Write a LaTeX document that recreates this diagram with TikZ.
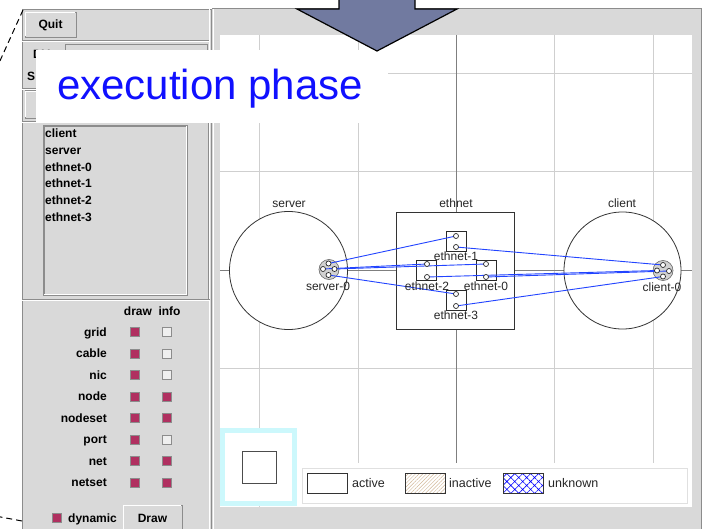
\documentclass[tikz,border=0pt]{standalone}
\usepackage{fontspec}
\setmainfont{Liberation Sans}
\usetikzlibrary{patterns.meta}
\definecolor{tkgray}{HTML}{D9D9D9}
\definecolor{tkdark}{HTML}{8C8C8C}
\definecolor{tklight}{HTML}{EFEFEF}
\definecolor{gridc}{HTML}{CFCFCF}
\definecolor{axisc}{HTML}{7F7F7F}
\definecolor{arrowc}{HTML}{717AA0}
\definecolor{cablec}{HTML}{2244FF}
\definecolor{checkc}{HTML}{B03060}
\definecolor{minic}{HTML}{CCF8FC}
\definecolor{hatchc}{HTML}{D2B898}
\definecolor{portc}{HTML}{2A2A2A}
\definecolor{phasec}{HTML}{1010FF}
\begin{document}
\begin{tikzpicture}[x=1pt,y=-1pt,
  guib/.style={font=\fontsize{12}{14}\selectfont\bfseries, inner sep=0pt},
  cvs/.style={font=\fontsize{12}{14}\selectfont, inner sep=0pt, text=black!85},
  gridline/.style={gridc, line width=1pt},
  axisline/.style={axisc, line width=1pt},
  sep/.style={tkdark, line width=0.8pt},
  hilite/.style={white, line width=0.8pt},
  button/.style={draw=tkdark, fill=tkgray, line width=0.8pt},
  sunken/.style={draw=tkdark, line width=0.8pt},
  chkon/.style={draw=tkdark, fill=checkc, minimum size=9pt, inner sep=0pt, line width=0.8pt},
  chkoff/.style={draw=tkdark, fill=tklight, minimum size=9pt, inner sep=0pt, line width=0.8pt},
  hostnode/.style={circle, draw=black!80, fill=white, line width=0.8pt, inner sep=0pt},
  nicnode/.style={circle, draw=black!60, fill=black!18, minimum size=20pt, inner sep=0pt, line width=0.6pt},
  portnode/.style={circle, draw=portc, fill=white, minimum size=5pt, inner sep=0pt, line width=0.7pt},
  ifbox/.style={draw=portc, fill=white, minimum size=20pt, inner sep=0pt, line width=0.8pt},
  cable/.style={cablec, line width=0.9pt},
  swatch/.style={draw=black!80, line width=0.8pt, minimum width=40pt, minimum height=20pt, inner sep=0pt},
  legtext/.style={font=\fontsize{12.5}{14}\selectfont, inner sep=0pt, text=black!85},
]
\useasboundingbox (0,0) rectangle (706,529);
\fill[white] (0,0) rectangle (706,529);
% window background
\fill[tkgray] (22,9) rectangle (702,529);
% right panel frame
\draw[sep] (211.5,9) -- (211.5,529);
\draw[hilite] (213,9) -- (213,529);
\draw[sep] (212,8.5) -- (702,8.5);
\draw[sep] (701.5,9) -- (701.5,529);
% canvas
\fill[white] (220,35) rectangle (692,507);
\foreach \x in {259,358,554,653} \draw[gridline] (\x,35) -- (\x,507);
\foreach \y in {74,172,368} \draw[gridline] (220,\y) -- (692,\y);
\draw[axisline] (456,35) -- (456,507);
\draw[axisline] (220,270.5) -- (692,270.5);
% hosts and net
\node[hostnode, minimum size=118pt] (server) at (288.5,270.5) {};
\node[hostnode, minimum size=117pt] (client) at (622.5,270.5) {};
\node[draw=black!80, fill=white, line width=0.8pt, minimum width=118pt, minimum height=117pt, inner sep=0pt] (ethnet) at (455,270.5) {};
\node[cvs, anchor=base] (serverlbl) at (289,208) {server};
\node[cvs, anchor=base] (ethnetlbl) at (456,208) {ethnet};
\node[cvs, anchor=base] (clientlbl) at (622,208) {client};
% NICs and interface boxes
\node[nicnode] (server0) at (329,269.5) {};
\node[nicnode] (client0) at (663,270.5) {};
\node[ifbox] (eth1) at (456,241) {};
\node[ifbox] (eth2) at (426.5,270) {};
\node[ifbox] (eth0) at (486,270) {};
\node[ifbox] (eth3) at (456,300) {};
% port positions
\coordinate (s0a) at (328.5,263.5);
\coordinate (s0b) at (323,269);
\coordinate (s0c) at (334.5,269);
\coordinate (s0d) at (328.5,275);
\coordinate (c0a) at (663,265);
\coordinate (c0b) at (657,270.5);
\coordinate (c0c) at (669,271);
\coordinate (c0d) at (663,276.5);
\coordinate (e1a) at (456,236);
\coordinate (e1b) at (456,247);
\coordinate (e2a) at (427,264);
\coordinate (e2b) at (427,277);
\coordinate (e0a) at (486,264);
\coordinate (e0b) at (486,277);
\coordinate (e3a) at (456,294);
\coordinate (e3b) at (456,306);
% cables
\draw[cable] (s0a) -- (e1a);
\draw[cable] (s0b) -- (e2a);
\draw[cable] (s0c) -- (e0a);
\draw[cable] (s0d) -- (e3a);
\draw[cable] (e1b) -- (c0a);
\draw[cable] (e2b) -- (c0b);
\draw[cable] (e0b) -- (c0c);
\draw[cable] (e3b) -- (c0d);
\foreach \p in {s0a,s0b,s0c,s0d,c0a,c0b,c0c,c0d,e1a,e1b,e2a,e2b,e0a,e0b,e3a,e3b}
  \node[portnode] (\p-p) at (\p) {};
\node[cvs, anchor=base] (server0lbl) at (328,290) {server-0};
\node[cvs, anchor=base] (client0lbl) at (662,291) {client-0};
\node[cvs, anchor=base] (eth1lbl) at (456,260) {ethnet-1};
\node[cvs, anchor=base] (eth2lbl) at (427,290) {ethnet-2};
\node[cvs, anchor=base] (eth0lbl) at (486,290) {ethnet-0};
\node[cvs, anchor=base] (eth3lbl) at (456,319) {ethnet-3};
% minimap
\fill[white] (220,428) rectangle (297,506);
\draw[minic, line width=4.5pt] (222.3,430.3) rectangle (294.7,503.7);
\draw[black!70, line width=1pt] (242,451) rectangle (276,483);
% legend
\fill[white] (298,463) rectangle (692,507);
\draw[black!12, line width=0.8pt] (302,468) rectangle (687,503);
\node[swatch, fill=white] (active) at (327,483) {};
\node[swatch, pattern={Lines[angle=45,distance=2.6pt,line width=0.45pt]}, pattern color=hatchc] (inactive) at (425,483) {};
\node[swatch, pattern={Hatch[angle=45,distance=5.6pt,line width=0.6pt]}, pattern color=blue] (unknown) at (523,483) {};
\node[legtext, anchor=base west] (activelbl) at (352,487) {active};
\node[legtext, anchor=base west] (inactivelbl) at (449,487) {inactive};
\node[legtext, anchor=base west] (unknownlbl) at (548,487) {unknown};
% left panel
\draw[sep] (22.5,9) -- (22.5,529);
\draw[sep] (22,9.5) -- (211,9.5);
\draw[button] (25,12) rectangle (76,37);
\draw[hilite] (25.8,36.2) -- (25.8,12.8) -- (75.2,12.8);
\node[guib, anchor=base] (quit) at (50.5,28.5) {Quit};
\draw[sep] (22,40.5) -- (210,40.5);
\draw[hilite] (22,41.8) -- (210,41.8);
\node[guib, anchor=base west] (dvlbl) at (33,58.6) {DV};
\node[guib, anchor=base west] (slbl) at (27,80.6) {S};
\draw[sunken] (65,44.5) rectangle (207,72);
\draw[sep] (22,88) -- (210,88);
\draw[hilite] (22,89.3) -- (210,89.3);
\draw[button] (25,90.5) rectangle (120,118);
\draw[hilite] (25.8,117.2) -- (25.8,91.3) -- (119,91.3);
\draw[sep] (22,121.5) -- (210,121.5);
\draw[hilite] (22,122.8) -- (210,122.8);
% listbox
\draw[sunken] (43,125) rectangle (187,295);
\draw[tkdark, line width=1.5pt] (43.8,295) -- (43.8,125.8) -- (187,125.8);
\draw[hilite] (44,294.2) -- (186.2,294.2) -- (186.2,126);
\foreach \t/\yy in {client/138, server/155, ethnet-0/172, ethnet-1/188, ethnet-2/205, ethnet-3/222}
  \node[guib, anchor=base west] (item-\t) at (45,\yy) {\t};
\draw[sep] (208,123) -- (208,299);
\draw[hilite] (209.5,9) -- (209.5,529);
\draw[sep] (22,299.5) -- (210,299.5);
\draw[hilite] (22,300.8) -- (210,300.8);
% check options
\node[guib, anchor=base] (drawhdr) at (138,315) {draw};
\node[guib, anchor=base] (infohdr) at (169.5,315) {info};
\foreach \lbl/\i/\inf in {grid/0/chkoff, cable/1/chkoff, nic/2/chkoff, node/3/chkon, nodeset/4/chkon, port/5/chkoff, net/6/chkon, netset/7/chkon} {
  \node[guib, anchor=base east] (lbl-\lbl) at (107,{336+21.5*\i}) {\lbl};
  \node[chkon] (draw-\lbl) at (135,{332+21.5*\i}) {};
  \node[\inf] (info-\lbl) at (167,{332+21.5*\i}) {};
}
\node[chkon] (dyn) at (56.5,518) {};
\node[guib, anchor=base west] (dynlbl) at (68,522) {dynamic};
\draw[button] (123,505) rectangle (182,532);
\draw[hilite] (123.8,531) -- (123.8,505.8) -- (181.2,505.8);
\node[guib, anchor=base] (drawbtn) at (152.5,522) {Draw};
% callout
\fill[white] (36,50) rectangle (388,123);
\node[anchor=base west, inner sep=0pt, text=phasec, font=\fontsize{42}{50}\selectfont] (phase) at (57,100) {execution phase};
% arrow
\draw[fill=arrowc, draw=black, line width=1.2pt, line join=miter]
  (339,-4) -- (339,9) -- (297,9) -- (377,51) -- (457,9) -- (415,9) -- (415,-4) -- cycle;
% dashed zoom lines
\coordinate (dtop) at (23,10);
\coordinate (dtopend) at (-1,63);
\coordinate (dbot) at (22,521);
\coordinate (dbotend) at (-2,516.5);
\draw[black, line width=1pt, dash pattern=on 6pt off 4pt] (dtop) -- (dtopend);
\draw[black, line width=1pt, dash pattern=on 6pt off 4pt] (dbot) -- (dbotend);
\end{tikzpicture}
\end{document}
